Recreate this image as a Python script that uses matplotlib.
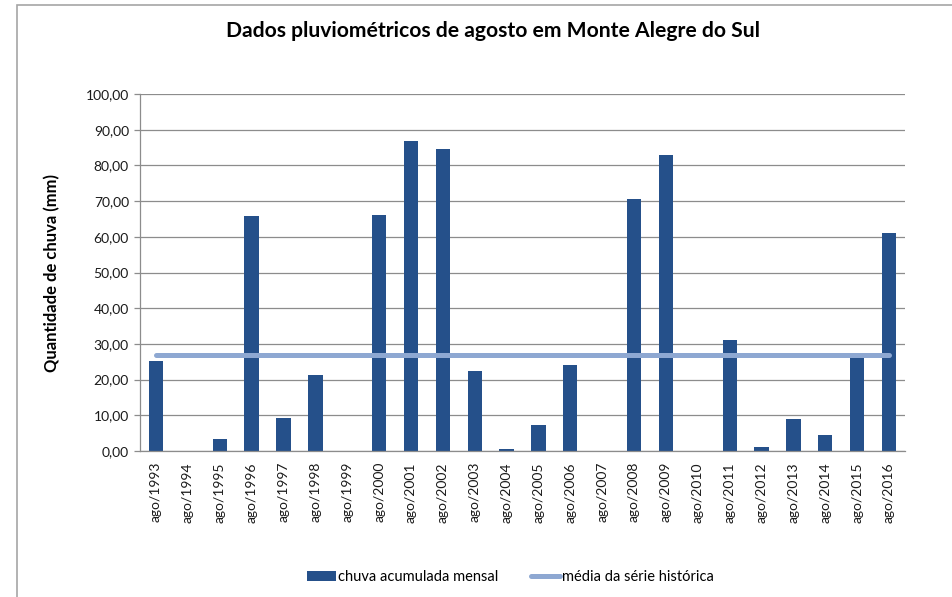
import numpy as np
import matplotlib.pyplot as plt
from matplotlib.patches import Rectangle

plt.rcParams['font.family'] = ['Lato', 'DejaVu Sans']

# dados pluviometricos de agosto (mm)
anos = [1993, 1994, 1995, 1996, 1997, 1998, 1999, 2000, 2001, 2002, 2003, 2004,
        2005, 2006, 2007, 2008, 2009, 2010, 2011, 2012, 2013, 2014, 2015, 2016]
chuva = [25.2, 0.0, 3.4, 65.9, 9.3, 21.3, 0.0, 66.2, 86.9, 84.7, 22.4, 0.6,
         7.3, 24.1, 0.0, 70.7, 83.0, 0.0, 31.1, 1.1, 9.0, 4.5, 26.4, 61.1]
media = 26.9  # media da serie historica
rotulos = ['ago/%d' % a for a in anos]
yticks = np.arange(0, 101, 10)

cor_barra = '#25508A'
cor_media = '#8EA8D2'
cor_grade = '#8C8C8C'

fig = plt.figure(figsize=(9.52, 5.97), dpi=100)
ax = fig.add_axes([0.1471, 0.2446, 0.8035, 0.5979])

x = np.arange(len(anos))
barras = ax.bar(x, chuva, width=0.45, color=cor_barra, zorder=2)
linha, = ax.plot(x, [media] * len(x), color=cor_media, lw=3.6, solid_capstyle='round', zorder=3)

ax.set_xlim(-0.5, len(anos) - 0.5)
ax.set_ylim(0, 100)
ax.set_yticks(yticks)
ax.set_yticklabels([('%.2f' % v).replace('.', ',') for v in yticks])
ax.set_xticks(x)
ax.set_xticklabels(rotulos, rotation=90)
ax.tick_params(axis='x', length=0, pad=8, labelsize=10, colors='#1a1a1a')
ax.tick_params(axis='y', length=4, width=0.9, color=cor_grade, pad=4, labelsize=10, labelcolor='#1a1a1a')

ax.grid(axis='y', color=cor_grade, lw=0.9, zorder=0)
ax.set_axisbelow(True)
for s in ['top', 'right']:
    ax.spines[s].set_visible(False)
for s in ['left', 'bottom']:
    ax.spines[s].set_color(cor_grade)
    ax.spines[s].set_linewidth(0.9)

ax.set_ylabel('Quantidade de chuva (mm)', fontsize=12, fontweight='bold', labelpad=18)
fig.text(0.518, 0.948, 'Dados pluviométricos de agosto em Monte Alegre do Sul',
         ha='center', va='center', fontsize=15.2, fontweight='bold')

fig.legend([barras, linha], ['chuva acumulada mensal', 'média da série histórica'],
           loc='center', bbox_to_anchor=(0.536, 0.033), ncol=2, frameon=False,
           fontsize=10.5, handlelength=2.0, handletextpad=0.15, columnspacing=2.2)

# moldura do grafico (cortada na imagem original)
fig.add_artist(Rectangle((17 / 952, -0.05), 1.1, 1 - 4.5 / 597 + 0.05, transform=fig.transFigure,
                         fill=False, edgecolor='#A6A6A6', lw=1.2))

fig.savefig('out.png', dpi=100)
